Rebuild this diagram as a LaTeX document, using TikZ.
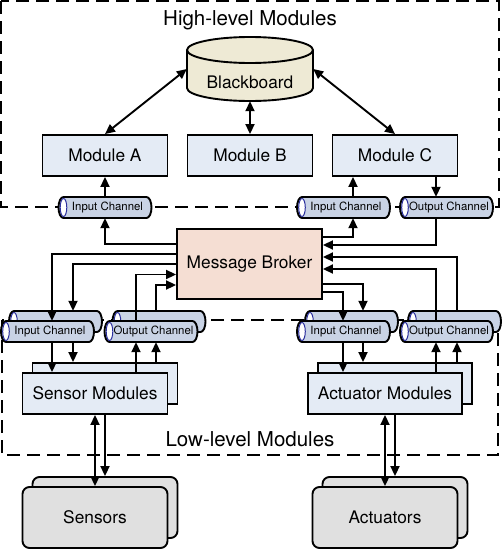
\documentclass[tikz,border=0pt]{standalone}
\usepackage{fontspec}
\setmainfont{TeX Gyre Heros}
\usetikzlibrary{arrows.meta,calc}
\definecolor{modfill}{HTML}{E4EBF5}
\definecolor{bbfill}{HTML}{EEEAD5}
\definecolor{brokerfill}{HTML}{F5DED3}
\definecolor{chanfill}{HTML}{C9D3E5}
\definecolor{devfill}{HTML}{E0E0E0}
\definecolor{chanend}{HTML}{2B2F9E}
\pgfdeclarelayer{bg}
\pgfdeclarelayer{mid}
\pgfsetlayers{bg,mid,main}
\newcommand{\chanshape}[2]{%
  \draw[chanbody] ({#1-41.5},{#2-10.5}) -- ({#1+41.5},{#2-10.5})
     arc[start angle=90,end angle=-90,x radius=5pt,y radius=10.5pt]
     -- ({#1-41.5},{#2+10.5})
     arc[start angle=270,end angle=90,x radius=5pt,y radius=10.5pt] -- cycle;
  \draw[chanendst] ({#1-41.5},#2) ellipse[x radius=3.3pt,y radius=9pt];
}
\newcommand{\chan}[4]{\chanshape{#2}{#3}\node[chantext] (#1) at (#2,#3) {\kern5pt#4};}
\begin{document}
\begin{tikzpicture}[x=1pt,y=-1pt,
  mod/.style={draw, line width=1.9pt, fill=modfill, inner sep=0, minimum height=41pt, font=\fontsize{17.3}{20}\selectfont},
  dev/.style={draw, line width=1.9pt, fill=devfill, rounded corners=7pt, inner sep=0, minimum width=145pt, minimum height=61pt, font=\fontsize{17.3}{20}\selectfont},
  arr/.style={line width=1.9pt, -{Triangle[length=10pt,width=9pt]}},
  dbl/.style={line width=1.9pt, {Triangle[length=10pt,width=9pt]}-{Triangle[length=10pt,width=9pt]}},
  dashbox/.style={line width=1.9pt, dash pattern=on 13pt off 7pt},
  chanbody/.style={line width=1.9pt, fill=chanfill},
  chanendst/.style={line width=1pt, draw=chanend, fill=white},
  chantext/.style={inner sep=0, minimum width=93pt, minimum height=21pt, font=\fontsize{11.4}{13}\selectfont},
  title/.style={font=\fontsize{20.5}{24}\selectfont, anchor=base}
]
\useasboundingbox (0,0) rectangle (502,549);

\begin{pgfonlayer}{bg}
% dashed group boxes
\draw[dashbox] (1,1) rectangle (499,207);
\draw[dashbox] (2,320) rectangle (498,455);
\node[title] (hl) at (250,25) {High-level Modules};
\node[title] (ll) at (250,446.5) {Low-level Modules};

% blackboard cylinder
\draw[line width=1.9pt, fill=bbfill] (187,50) -- (187,88)
  arc[start angle=180,end angle=360,x radius=63pt,y radius=13pt] -- (313,50)
  arc[start angle=0,end angle=180,x radius=63pt,y radius=13pt] -- cycle;
\draw[line width=1.9pt] (187,50) arc[start angle=180,end angle=360,x radius=63pt,y radius=13pt];
\node[inner sep=0, minimum width=126pt, minimum height=64pt, font=\fontsize{17.3}{20}\selectfont] (bb) at (250,69) {\raisebox{-19pt}[0pt][0pt]{Blackboard}};

% high-level modules
\node[mod, minimum width=125pt] (ma) at (105,155.5) {Module A};
\node[mod, minimum width=125pt] (mb) at (250,155.5) {Module B};
\node[mod, minimum width=125pt] (mc) at (395,155.5) {Module C};

% broker
\node[mod, fill=brokerfill, minimum width=145pt, minimum height=70pt] (mbk) at (249.5,264) {Message Broker};

% top channels
\chan{ia}{105}{207.5}{Input Channel}
\chan{ic}{343.5}{207.5}{Input Channel}
\chan{oc}{446.5}{207.5}{Output Channel}

% low-level modules (stacked)
\node[mod, minimum width=145pt] (smb) at (105,383.5) {};
\node[mod, minimum width=145pt] (smf) at (95,393.5) {Sensor Modules};
\node[mod, minimum width=154pt] (amb) at (395,383.5) {};
\node[mod, minimum width=154pt] (amf) at (385,393.5) {Actuator Modules};

% devices (stacked)
\node[dev] (sb) at (105,507.5) {};
\node[dev] (sf) at (95,517.5) {Sensors};
\node[dev] (ab) at (395,507.5) {};
\node[dev] (af) at (385,517.5) {Actuators};

% back channels
\chan{sib}{55.5}{321.5}{}
\chan{sob}{159}{321.5}{}
\chan{aib}{351.5}{321.5}{}
\chan{aob}{454.5}{321.5}{}
\end{pgfonlayer}

% front channels
\chan{sif}{47.5}{331.5}{Input Channel}
\chan{sof}{151}{331.5}{Output Channel}
\chan{aif}{343.5}{331.5}{Input Channel}
\chan{aof}{446.5}{331.5}{Output Channel}

\begin{pgfonlayer}{mid}
% connectors: blackboard
\draw[dbl] (bb.west) -- (ma.north);
\draw[dbl] (bb.south) -- (mb.north);
\draw[dbl] (bb.east) -- (mc.north);

% top channels <-> modules
\draw[arr] (ia.north) -- (ia.north |- ma.south);
\draw[arr] (353,0 |- ic.north) -- (353,0 |- mc.south);
\draw[arr] (436,0 |- mc.south) -- (436,0 |- oc.north);

% broker left side
\draw[arr] (mbk.west |- 0,244) -| (ia.south);
\draw[arr] (mbk.west |- 0,254) -| (52,0 |- sif.north);
\draw[arr] (mbk.west |- 0,264) -| (73,0 |- sib.north);
\draw[arr] (136,0 |- sof.north) |- (mbk.west |- 0,274.5);
\draw[arr] (156,0 |- sob.north) |- (mbk.west |- 0,285);

% broker right side
\draw[arr] (mbk.east |- 0,237) -| (353,0 |- ic.south);
\draw[arr] (436,0 |- oc.south) |- (mbk.east |- 0,245);
\draw[arr] (457,0 |- aob.north) |- (mbk.east |- 0,257);
\draw[arr] (436,0 |- aof.north) |- (mbk.east |- 0,269);
\draw[arr] (mbk.east |- 0,284) -| (363,0 |- aib.north);
\draw[arr] (mbk.east |- 0,292) -| (343,0 |- aif.north);

% channels <-> low-level modules
\draw[arr] (52,0 |- sif.south) -- (52,0 |- smf.north);
\draw[arr] (73,0 |- sif.south) -- (73,0 |- smb.north);
\draw[arr] (136,0 |- smf.north) -- (136,0 |- sof.south);
\draw[arr] (156,0 |- smb.north) -- (156,0 |- sof.south);
\draw[arr] (343,0 |- aif.south) -- (343,0 |- amf.north);
\draw[arr] (363,0 |- aif.south) -- (363,0 |- amb.north);
\draw[arr] (436,0 |- amf.north) -- (436,0 |- aof.south);
\draw[arr] (457,0 |- amb.north) -- (457,0 |- aof.south);

% modules <-> devices
\draw[dbl] (smf.south) -- (sf.north);
\draw[arr] (105,0 |- smf.south) -- (105,0 |- sb.north);
\draw[dbl] (amf.south) -- (af.north);
\draw[arr] (395,0 |- amf.south) -- (395,0 |- ab.north);
\end{pgfonlayer}
\end{tikzpicture}
\end{document}
